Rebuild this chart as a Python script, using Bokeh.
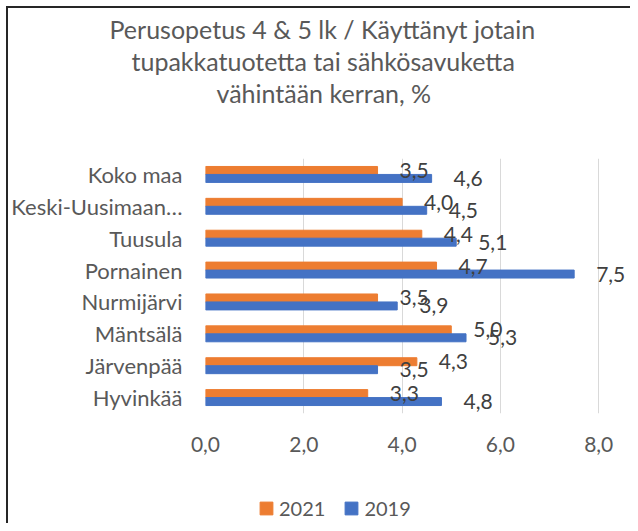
from bokeh.plotting import figure
from bokeh.layouts import column
from bokeh.models import (FactorRange, Range1d, FixedTicker, Legend,
                          LegendItem, ColumnDataSource, Title)
from bokeh.transform import dodge
from bokeh.core.properties import value
from bokeh.embed import file_html
from bokeh.resources import INLINE

# ---- data ----
categories = ["Koko maa", "Keski-Uusimaan…", "Tuusula", "Pornainen",
              "Nurmijärvi", "Mäntsälä", "Järvenpää", "Hyvinkää"]
values_2021 = [3.5, 4.0, 4.4, 4.7, 3.5, 5.0, 4.3, 3.3]
values_2019 = [4.6, 4.5, 5.1, 7.5, 3.9, 5.3, 3.5, 4.8]
series_names = ["2021", "2019"]
x_ticks = [0, 2, 4, 6, 8]
x_tick_labels = ["0,0", "2,0", "4,0", "6,0", "8,0"]
title_lines = ["Perusopetus 4 & 5 lk  / Käyttänyt jotain",
               "tupakkatuotetta tai sähkösavuketta",
               "vähintään kerran, %"]

FONT = "Lato"
TXT = "#595959"
ORANGE = "#ED7D31"
BLUE = "#4472C4"
W = 622


def fmt(v):
    return f"{v:.1f}".replace(".", ",")


def bare(fig):
    fig.outline_line_color = None
    fig.background_fill_color = "white"
    fig.border_fill_color = "white"
    fig.grid.visible = False
    return fig


src = ColumnDataSource(dict(
    cat=categories,
    v21=values_2021, v19=values_2019,
    l21=[fmt(v) for v in values_2021],
    l19=[fmt(v) for v in values_2019],
))

# ---- title strip (titles stacked in the panel below a thin frame) ----
tf = bare(figure(width=W, height=142, x_axis_location=None, y_axis_location=None,
                 output_backend="svg", toolbar_location=None, title=None,
                 min_border_left=0, min_border_right=0,
                 min_border_top=0, min_border_bottom=139))
for line, off in zip(title_lines, (-96, -74, 11)):
    tf.add_layout(Title(text=line, align="left", offset=off, standoff=0,
                        text_font=FONT, text_font_size="25px",
                        text_font_style="normal", text_color=TXT), "below")

# ---- main chart ----
p = figure(width=W, height=320,
           y_range=FactorRange(factors=categories[::-1]),
           x_range=Range1d(0, 8.646),
           output_backend="svg", toolbar_location=None, title=None,
           min_border_left=194, min_border_right=0,
           min_border_top=8, min_border_bottom=57)
p.outline_line_color = None
p.background_fill_color = "white"
p.border_fill_color = "white"

r21 = p.hbar(y=dodge("cat", 0.125, range=p.y_range), left=0, right="v21",
             height=0.25, fill_color=ORANGE, line_color=ORANGE, source=src)
r19 = p.hbar(y=dodge("cat", -0.125, range=p.y_range), left=0, right="v19",
             height=0.25, fill_color=BLUE, line_color=BLUE, source=src)

for col, off in (("21", 0.125), ("19", -0.125)):
    p.text(x="v" + col, y=dodge("cat", off, range=p.y_range), text="l" + col,
           x_offset=22, text_align="left", text_baseline="middle",
           text_font=value(FONT), text_font_size="21px", text_color="#404040",
           source=src)

p.xaxis.ticker = FixedTicker(ticks=x_ticks)
p.xgrid.ticker = FixedTicker(ticks=x_ticks)
p.xaxis.major_label_overrides = dict(zip(x_ticks, x_tick_labels))
for ax in (p.xaxis, p.yaxis):
    ax.axis_line_color = None
    ax.major_tick_line_color = None
    ax.minor_tick_line_color = None
    ax.major_tick_out = 0
    ax.minor_tick_out = 0
    ax.major_label_text_font = FONT
    ax.major_label_text_color = TXT
p.xaxis.major_label_text_font_size = "21px"
p.yaxis.major_label_text_font_size = "22px"
p.xaxis.major_label_standoff = 23
p.yaxis.major_label_standoff = 23
p.xgrid.grid_line_color = "#D9D9D9"
p.xgrid.grid_line_width = 1
p.ygrid.grid_line_color = None

# ---- legend strip (key renderers lie outside its visible range) ----
lf = bare(figure(width=W, height=53, x_range=Range1d(-2, -1),
                 y_range=FactorRange(factors=categories[::-1]),
                 x_axis_location=None, y_axis_location=None,
                 output_backend="svg", toolbar_location=None, title=None,
                 min_border=0))
k21 = lf.hbar(y="cat", left=0, right="v21", height=0.25,
              fill_color=ORANGE, line_color=ORANGE, source=src)
k19 = lf.hbar(y="cat", left=0, right="v19", height=0.25,
              fill_color=BLUE, line_color=BLUE, source=src)
legend = Legend(items=[LegendItem(label=series_names[0], renderers=[k21]),
                       LegendItem(label=series_names[1], renderers=[k19])],
                orientation="horizontal", location=(53, 3),
                glyph_width=16, glyph_height=16, label_standoff=5, spacing=18,
                padding=0, margin=0, border_line_color=None,
                background_fill_alpha=0, label_text_font=FONT,
                label_text_font_size="20px", label_text_color=TXT)
lf.add_layout(legend)

layout = column(tf, p, lf, spacing=0)
layout.margin = (6, 0, 0, 6)
layout.styles = {"border-left": "2px solid #262626", "border-top": "2px solid #262626"}

open("out.html", "w").write(file_html(layout, INLINE))
